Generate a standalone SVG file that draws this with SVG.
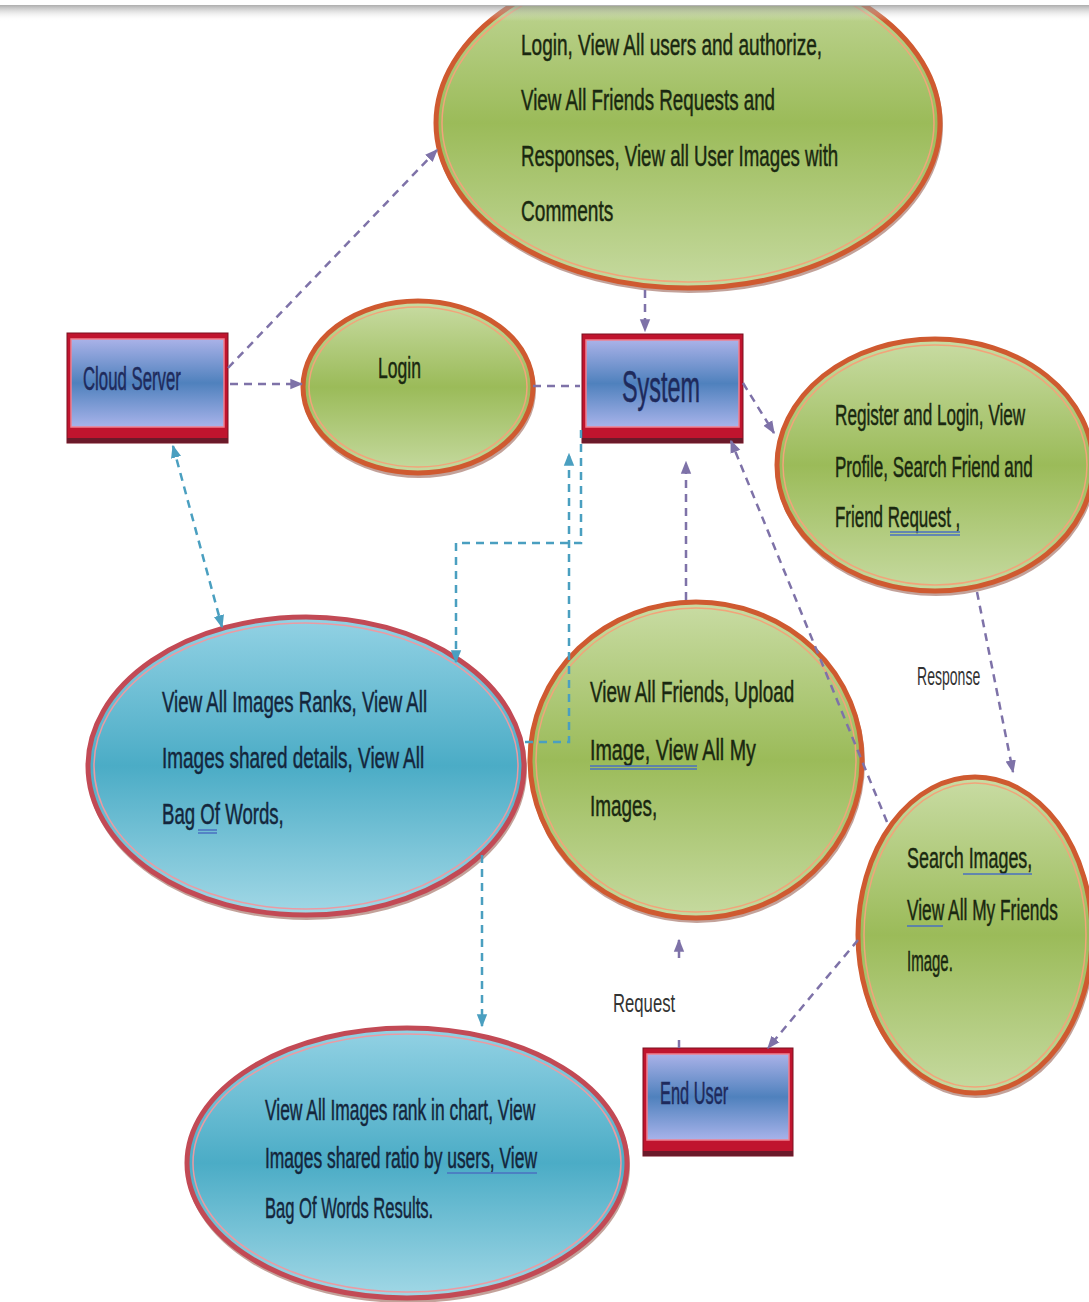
<svg xmlns="http://www.w3.org/2000/svg" width="1089" height="1302" viewBox="0 0 1089 1302">
<style>
.t{font-family:"Liberation Sans",Arial,sans-serif;font-size:30px;fill:#1a2810;stroke:#1a2810;stroke-width:0.5}
.tb{font-family:"Liberation Sans",Arial,sans-serif;font-size:30px;fill:#14263c;stroke:#14263c;stroke-width:0.5}
.bx{font-family:"Liberation Sans",Arial,sans-serif;fill:#1e2a5c;stroke:#1e2a5c;stroke-width:0.5}
.lbl{font-family:"Liberation Sans",Arial,sans-serif;font-size:26px;fill:#333333}
.green{fill:url(#gGreen);stroke:#cf5a30;stroke-width:5}
.blue{fill:url(#gBlue);stroke:#c24a55;stroke-width:5}
.shadow{fill:none;stroke:#7a3020;stroke-width:4;opacity:0.45}
.ringg{fill:none;stroke:#f2a47a;stroke-width:1.5}
.ringb{fill:none;stroke:#ec9aa2;stroke-width:1.5}
.p{fill:none;stroke:#7e72a8;stroke-width:2.5;stroke-dasharray:8 6}
.c{fill:none;stroke:#4a9fc0;stroke-width:2.5;stroke-dasharray:8 6}
.ul{stroke:#4a70c0;stroke-width:1.5;fill:none}
.boxo{fill:#c0142e;stroke:#7a1020;stroke-width:1}
.boxi{fill:url(#gBox);stroke:#f08090;stroke-width:1.5}
</style>
<defs>
<linearGradient id="gGreen" x1="0" y1="0" x2="0" y2="1">
<stop offset="0" stop-color="#c9dca4"/><stop offset="0.5" stop-color="#9bbb59"/><stop offset="1" stop-color="#c6daa0"/>
</linearGradient>
<linearGradient id="gBlue" x1="0" y1="0" x2="0" y2="1">
<stop offset="0" stop-color="#93d2e4"/><stop offset="0.5" stop-color="#4bacc6"/><stop offset="1" stop-color="#a2d8e6"/>
</linearGradient>
<linearGradient id="gBox" x1="0" y1="0" x2="0" y2="1">
<stop offset="0" stop-color="#aab2e8"/><stop offset="0.5" stop-color="#4f81bd"/><stop offset="1" stop-color="#a8b3ea"/>
</linearGradient>
<linearGradient id="gTop" x1="0" y1="0" x2="0" y2="1">
<stop offset="0" stop-color="#8a8a8a" stop-opacity="0.7"/><stop offset="1" stop-color="#ffffff" stop-opacity="0"/>
</linearGradient>
<marker id="ap" viewBox="0 0 10 10" refX="9" refY="5" markerWidth="13" markerHeight="13" markerUnits="userSpaceOnUse" orient="auto-start-reverse">
<path d="M0,1 L10,5 L0,9 z" fill="#7e72a8"/>
</marker>
<marker id="ac" viewBox="0 0 10 10" refX="9" refY="5" markerWidth="13" markerHeight="13" markerUnits="userSpaceOnUse" orient="auto-start-reverse">
<path d="M0,1 L10,5 L0,9 z" fill="#4a9fc0"/>
</marker>
</defs>
<rect x="0" y="0" width="1089" height="1302" fill="#ffffff"/>

<g id="admin-functions">
<ellipse class="shadow" cx="689" cy="126" rx="252" ry="165"/>
<ellipse class="green" cx="688" cy="123" rx="252" ry="165"/>
<ellipse class="ringg" cx="688" cy="123" rx="246" ry="159"/>
<text class="t" transform="translate(521,55) scale(0.58,1)" textLength="519" lengthAdjust="spacingAndGlyphs">Login, View All users and authorize,</text>
<text class="t" transform="translate(521,110) scale(0.58,1)" textLength="438" lengthAdjust="spacingAndGlyphs">View All Friends Requests and</text>
<text class="t" transform="translate(521,166) scale(0.58,1)" textLength="547" lengthAdjust="spacingAndGlyphs">Responses, View all User Images with</text>
<text class="t" transform="translate(521,221) scale(0.58,1)" textLength="159" lengthAdjust="spacingAndGlyphs">Comments</text>
</g>

<g id="cloud-server">
<rect class="boxo" x="67" y="333" width="161" height="110"/>
<rect class="boxi" x="71" y="339" width="153" height="88"/>
<rect x="67" y="438" width="161" height="5" fill="#6b1a2a"/>
<text class="bx" font-size="34" transform="translate(83,390) scale(0.55,1)" textLength="178" lengthAdjust="spacingAndGlyphs">Cloud Server</text>
</g>

<g id="login">
<ellipse class="shadow" cx="419" cy="390" rx="115" ry="86"/>
<ellipse class="green" cx="418" cy="387" rx="115" ry="86"/>
<ellipse class="ringg" cx="418" cy="387" rx="109" ry="80"/>
<text class="t" font-size="33" transform="translate(378,378) scale(0.55,1)" textLength="78" lengthAdjust="spacingAndGlyphs">Login</text>
</g>

<g id="system">
<rect class="boxo" x="582" y="334" width="161" height="109"/>
<rect class="boxi" x="586" y="340" width="153" height="87"/>
<rect x="582" y="438" width="161" height="5" fill="#6b1a2a"/>
<text class="bx" font-size="44" transform="translate(622,402) scale(0.55,1)" textLength="142" lengthAdjust="spacingAndGlyphs">System</text>
</g>

<g id="user-account">
<ellipse class="shadow" cx="936" cy="468" rx="158" ry="126"/>
<ellipse class="green" cx="935" cy="465" rx="158" ry="126"/>
<ellipse class="ringg" cx="935" cy="465" rx="152" ry="120"/>
<text class="t" transform="translate(835,425) scale(0.58,1)" textLength="328" lengthAdjust="spacingAndGlyphs">Register and Login, View</text>
<text class="t" transform="translate(835,477) scale(0.58,1)" textLength="341" lengthAdjust="spacingAndGlyphs">Profile, Search Friend and</text>
<text class="t" transform="translate(835,527) scale(0.58,1)" textLength="216" lengthAdjust="spacingAndGlyphs">Friend Request ,</text>
<path class="ul" d="M890,532 H960 M890,535 H960"/>
</g>

<g id="image-ranks">
<ellipse class="shadow" cx="307" cy="769" rx="218" ry="149"/>
<ellipse class="blue" cx="306" cy="766" rx="218" ry="149"/>
<ellipse class="ringb" cx="306" cy="766" rx="212" ry="143"/>
<text class="tb" transform="translate(162,712) scale(0.58,1)" textLength="457" lengthAdjust="spacingAndGlyphs">View All Images Ranks, View All</text>
<text class="tb" transform="translate(162,768) scale(0.58,1)" textLength="452" lengthAdjust="spacingAndGlyphs">Images shared details, View All</text>
<text class="tb" transform="translate(162,824) scale(0.58,1)" textLength="210" lengthAdjust="spacingAndGlyphs">Bag Of Words,</text>
<path class="ul" d="M198,830 H217 M198,833 H217"/>
</g>

<g id="user-images">
<ellipse class="shadow" cx="697" cy="763" rx="166" ry="158"/>
<ellipse class="green" cx="696" cy="760" rx="166" ry="158"/>
<ellipse class="ringg" cx="696" cy="760" rx="160" ry="152"/>
<text class="t" transform="translate(590,702) scale(0.58,1)" textLength="352" lengthAdjust="spacingAndGlyphs">View All Friends, Upload</text>
<text class="t" transform="translate(590,760) scale(0.58,1)" textLength="286" lengthAdjust="spacingAndGlyphs">Image, View All My</text>
<text class="t" transform="translate(590,816) scale(0.58,1)" textLength="116" lengthAdjust="spacingAndGlyphs">Images,</text>
<path class="ul" d="M590,766 H697 M590,769 H697"/>
</g>

<g id="search-images">
<ellipse class="shadow" cx="976" cy="938" rx="117" ry="158"/>
<ellipse class="green" cx="975" cy="935" rx="117" ry="158"/>
<ellipse class="ringg" cx="975" cy="935" rx="111" ry="152"/>
<text class="t" transform="translate(907,868) scale(0.58,1)" textLength="216" lengthAdjust="spacingAndGlyphs">Search Images,</text>
<text class="t" transform="translate(907,920) scale(0.58,1)" textLength="260" lengthAdjust="spacingAndGlyphs">View All My Friends</text>
<text class="t" transform="translate(907,971) scale(0.58,1)" textLength="79" lengthAdjust="spacingAndGlyphs">Image.</text>
<path class="ul" d="M963,874 H1032 M907,926 H943"/>
</g>

<g id="charts">
<ellipse class="shadow" cx="408" cy="1166" rx="220" ry="135"/>
<ellipse class="blue" cx="407" cy="1163" rx="220" ry="135"/>
<ellipse class="ringb" cx="407" cy="1163" rx="214" ry="129"/>
<text class="tb" transform="translate(265,1120) scale(0.58,1)" textLength="466" lengthAdjust="spacingAndGlyphs">View All Images rank in chart, View</text>
<text class="tb" transform="translate(265,1168) scale(0.58,1)" textLength="469" lengthAdjust="spacingAndGlyphs">Images shared ratio by users, View</text>
<text class="tb" transform="translate(265,1218) scale(0.58,1)" textLength="290" lengthAdjust="spacingAndGlyphs">Bag Of Words Results.</text>
<path class="ul" d="M447,1173 H537"/>
</g>

<g id="end-user">
<rect class="boxo" x="643" y="1048" width="150" height="108"/>
<rect class="boxi" x="647" y="1054" width="142" height="86"/>
<rect x="643" y="1151" width="150" height="5" fill="#6b1a2a"/>
<text class="bx" font-size="31" transform="translate(660,1104) scale(0.55,1)" textLength="124" lengthAdjust="spacingAndGlyphs">End User</text>
</g>

<g id="connectors">
<path class="p" d="M228,368 L437,150" marker-end="url(#ap)"/>
<path class="p" d="M230,384 H302" marker-end="url(#ap)"/>
<path class="p" d="M533,386 H580"/>
<path class="p" d="M645,290 V331" marker-end="url(#ap)"/>
<path class="p" d="M743,383 L774,433" marker-end="url(#ap)"/>
<path class="p" d="M977,592 L1013,772" marker-end="url(#ap)"/>
<path class="p" d="M887,822 L731,441" marker-end="url(#ap)"/>
<path class="p" d="M686,600 V462" marker-end="url(#ap)"/>
<path class="p" d="M858,940 L768,1048" marker-end="url(#ap)"/>
<path class="p" d="M679,1048 V1036"/>
<path class="p" d="M679,958 V940" marker-end="url(#ap)"/>
<path class="c" d="M173,446 L222,627" marker-start="url(#ac)" marker-end="url(#ac)"/>
<path class="c" d="M525,742 H569 V454" marker-end="url(#ac)"/>
<path class="c" d="M581,430 V543 H456 V662" marker-end="url(#ac)"/>
<path class="c" d="M482,855 V1026" marker-end="url(#ac)"/>
<text class="lbl" transform="translate(917,685) scale(0.55,1)" textLength="115" lengthAdjust="spacingAndGlyphs">Response</text>
<text class="lbl" transform="translate(613,1012) scale(0.55,1)" textLength="113" lengthAdjust="spacingAndGlyphs">Request</text>
</g>

<rect x="0" y="0" width="1089" height="6" fill="#ffffff"/>
<rect x="0" y="5" width="1089" height="16" fill="url(#gTop)"/>
</svg>
